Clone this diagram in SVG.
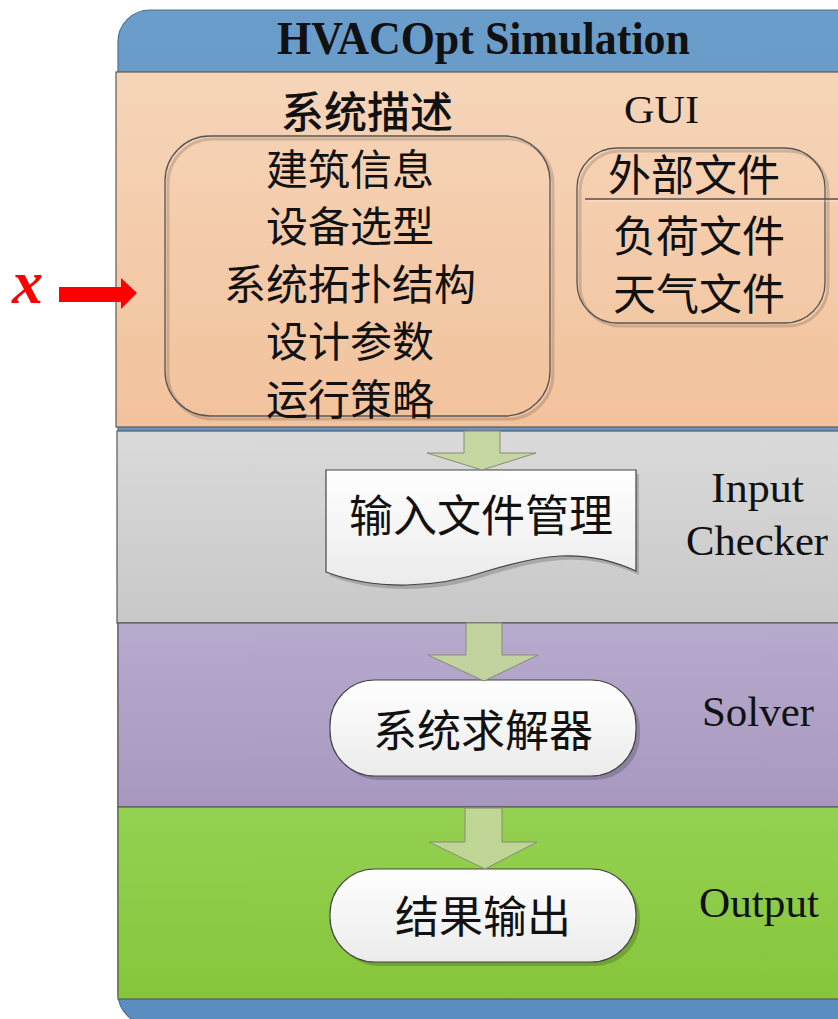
<svg xmlns="http://www.w3.org/2000/svg" width="838" height="1019" viewBox="0 0 838 1019">
<defs>
<linearGradient id="gOrange" x1="0" y1="0" x2="0" y2="1"><stop offset="0" stop-color="#f6d5b9"/><stop offset="1" stop-color="#f2c29c"/></linearGradient>
<linearGradient id="gGray" x1="0" y1="0" x2="0" y2="1"><stop offset="0" stop-color="#dadada"/><stop offset="1" stop-color="#c8c8c8"/></linearGradient>
<linearGradient id="gPurple" x1="0" y1="0" x2="0" y2="1"><stop offset="0" stop-color="#b6aacd"/><stop offset="1" stop-color="#a898c0"/></linearGradient>
<linearGradient id="gGreen" x1="0" y1="0" x2="0" y2="1"><stop offset="0" stop-color="#94d152"/><stop offset="1" stop-color="#87c53b"/></linearGradient>
<linearGradient id="gWhite" x1="0" y1="0" x2="0" y2="1"><stop offset="0" stop-color="#ffffff"/><stop offset="1" stop-color="#ebebeb"/></linearGradient>
<linearGradient id="gBlue" x1="0" y1="0" x2="0" y2="1"><stop offset="0" stop-color="#6b9dcb"/><stop offset="1" stop-color="#5a8ec0"/></linearGradient>
</defs>
<style>
.band{stroke:#5a5a5a;stroke-width:1.2}
.cjk{font-family:"Noto Sans CJK SC","Noto Sans",sans-serif;fill:#111;text-anchor:middle;dominant-baseline:central}
.lat{font-family:"Liberation Serif","Times New Roman",serif;fill:#111}
.box{fill:none;stroke:#555;stroke-width:1.3}
.shadow{fill:none;stroke:#000;stroke-opacity:0.15;stroke-width:3}
.node{fill:url(#gWhite);stroke:#444;stroke-width:1.2}
.nshadow{fill:#000;fill-opacity:0.18}
.barrow{fill:#c3d69b;fill-opacity:0.92;stroke:#8a8a7a;stroke-width:1}
</style>
<g id="frame">
<rect x="118" y="10" width="760" height="1015" rx="32" ry="32" fill="url(#gBlue)" stroke="#4a6e94" stroke-width="1.2"/>
<text class="lat" x="277" y="54" font-size="46" font-weight="bold" textLength="413" lengthAdjust="spacingAndGlyphs">HVACOpt Simulation</text>
</g>
<g id="band-gui">
<rect class="band" x="116" y="72" width="740" height="355" fill="url(#gOrange)"/>
<text class="cjk" x="367" y="109" font-size="43" font-weight="500">系统描述</text>
<text class="lat" x="624" y="123" font-size="40" textLength="75" lengthAdjust="spacingAndGlyphs">GUI</text>
</g>
<g id="band-input">
<rect class="band" x="117" y="431" width="740" height="192" fill="url(#gGray)"/>
<text class="lat" x="711" y="502" font-size="42" textLength="93" lengthAdjust="spacingAndGlyphs">Input</text>
<text class="lat" x="686" y="555" font-size="42" textLength="142" lengthAdjust="spacingAndGlyphs">Checker</text>
</g>
<g id="band-solver">
<rect class="band" x="118" y="623" width="740" height="184" fill="url(#gPurple)"/>
<text class="lat" x="702" y="726" font-size="42" textLength="112" lengthAdjust="spacingAndGlyphs">Solver</text>
</g>
<g id="band-output">
<rect class="band" x="118" y="807" width="740" height="192" fill="url(#gGreen)"/>
<text class="lat" x="699" y="917" font-size="43" textLength="120" lengthAdjust="spacingAndGlyphs">Output</text>
</g>
<g id="system-desc">
<rect class="shadow" x="168" y="139" width="385" height="280" rx="45" ry="45"/>
<rect class="box" x="165" y="136" width="385" height="280" rx="45" ry="45"/>
<text class="cjk" x="350" y="166" font-size="42">建筑信息</text>
<text class="cjk" x="350" y="223" font-size="42">设备选型</text>
<text class="cjk" x="350" y="281" font-size="42">系统拓扑结构</text>
<text class="cjk" x="350" y="338" font-size="42">设计参数</text>
<text class="cjk" x="350" y="396" font-size="42">运行策略</text>
</g>
<g id="external-files">
<rect class="shadow" x="580" y="151" width="248" height="175" rx="40" ry="40"/>
<rect class="box" x="577" y="148" width="248" height="175" rx="40" ry="40"/>
<line x1="585" y1="199" x2="838" y2="199" stroke="#555" stroke-width="1.3"/>
<line x1="585" y1="201" x2="838" y2="201" stroke="#fff" stroke-opacity="0.4" stroke-width="1"/>
<text class="cjk" x="694" y="172" font-size="43">外部文件</text>
<text class="cjk" x="699" y="233" font-size="43">负荷文件</text>
<text class="cjk" x="699" y="291" font-size="43">天气文件</text>
</g>
<g id="input-manager">
<path class="nshadow" d="M330,474 L639,474 L639,575 C585,550 540,560 490,575 C440,592 380,595 330,576 Z"/>
<path class="node" d="M326,470 L636,470 L636,571 C582,546 537,556 487,571 C437,588 377,591 326,572 Z"/>
<text class="cjk" x="481" y="513" font-size="44">输入文件管理</text>
</g>
<g id="solver-node">
<rect class="nshadow" x="334" y="684" width="306" height="96" rx="45" ry="45"/>
<rect class="node" x="330" y="680" width="306" height="96" rx="45" ry="45"/>
<text class="cjk" x="483" y="728" font-size="44">系统求解器</text>
</g>
<g id="output-node">
<rect class="nshadow" x="334" y="873" width="306" height="93" rx="45" ry="45"/>
<rect class="node" x="330" y="869" width="306" height="93" rx="45" ry="45"/>
<text class="cjk" x="483" y="914" font-size="44">结果输出</text>
</g>
<g id="connectors">
<path class="barrow" d="M464,431 L500,431 L500,453 L536,453 L482,470 L427,453 L464,453 Z"/>
<path class="barrow" d="M466,623 L502,623 L502,655 L538,655 L484,681 L428,655 L466,655 Z"/>
<path class="barrow" d="M465,808 L502,808 L502,842 L537,842 L485,869 L429,842 L465,842 Z"/>
<path d="M59,287 L121,287 L121,278 L137,293 L121,309 L121,302 L59,302 Z" fill="#ff0000"/>
</g>
<g id="input-x">
<text x="12" y="303" font-family="Liberation Serif, serif" font-size="62" font-style="italic" font-weight="bold" fill="#ff0000">x</text>
</g>
</svg>
